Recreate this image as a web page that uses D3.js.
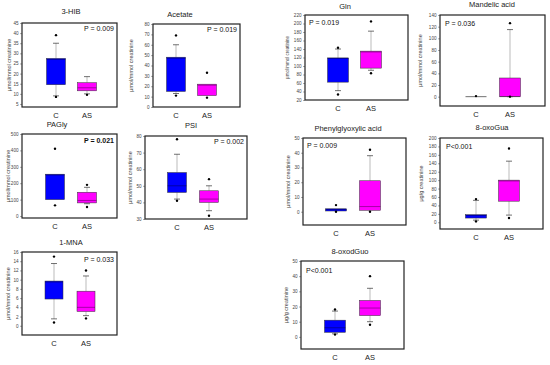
<!DOCTYPE html>
<html>
<head>
<meta charset="utf-8">
<script src="https://cdn.jsdelivr.net/npm/d3@7"></script>
<style>
  body { margin: 0; background: #fff; }
  svg { display: block; font-family: "Liberation Sans", Arial, sans-serif; }
</style>
</head>
<body>
<div id="chart"></div>
<script>
// panel titles, p-values and units
const panelNames = ["3-HIB", "Acetate", "PAGly", "PSI", "1-MNA", "Gln", "Mandelic acid", "Phenylglyoxylic acid", "8-oxoGua", "8-oxodGuo"];
const pLabels = ["P = 0.009", "P = 0.019", "P = 0.021", "P = 0.002", "P = 0.033", "P = 0.019", "P = 0.036", "P = 0.009", "P<0.001", "P<0.001"];
const yUnits = ["μmol/mmol creatinine", "μmol/mmol creatinine", "μmol/mmol creatinine", "μmol/mmol creatinine", "μmol/mmol creatinine",
                "μmol/mmol creatinine", "μmol/mmol creatinine", "μmol/mmol creatinine", "μg/g creatinine", "μg/g creatinine"];
const groups = ["C", "AS"];

// y tick labels per panel
const yTicks = [
    [5, 10, 15, 20, 25, 30, 35, 40, 45],
    [0, 10, 20, 30, 40, 50, 60, 70, 80],
    [0, 100, 200, 300, 400, 500],
    [30, 40, 50, 60, 70, 80],
    [0, 2, 4, 6, 8, 10, 12, 14, 16],
    [20, 40, 60, 80, 100, 120, 140, 160, 180, 200, 220],
    [0, 20, 40, 60, 80, 100, 120, 140],
    [0, 10, 20, 30, 40, 50],
    [0, 20, 40, 60, 80, 100, 120, 140, 160, 180, 200],
    [0, 10, 20, 30, 40, 50]
];

// box stats: [whiskerLow, q1, median, q3, whiskerHigh, dotLow, dotHigh]
const cStats = [
    [9, 14.5, 27, 27.5, 35, 8.5, 39],
    [13, 15, 47, 48, 60, 11, 69],
    [null, 100, 250, 255, null, 65, 410],
    [42, 46, 50, 58, 69, 41, 78],
    [1.5, 5.8, 9.5, 9.7, 13.5, 0.7, 15],
    [42, 62, 118, 119, 140, 33, 143],
    [null, 0, 0, 0, null, null, 1],
    [null, 0.5, 1.5, 2, null, 0, 4.5],
    [5, 10, 16, 18, 52, 2, 55],
    [2, 3, 6, 11, 17, 1.5, 18]
];
const asStats = [
    [10, 11.5, 13, 15.5, 18.5, 9.5, null],
    [null, 11, 21, 22, null, 9, 33],
    [75, 80, 95, 145, 175, 55, 190],
    [35, 40, 42, 47, 50, 32, 54],
    [2.2, 3.1, 4, 7.5, 10.8, 1.6, 12],
    [90, 95, 133, 135, 182, 83, 205],
    [0, 0, 0, 32, 115, 0, 126],
    [null, 1, 3.5, 21, 38, 0, 42],
    [17, 50, 98, 100, 145, 10, 175],
    [10, 14, 19, 24, 32, 8, 40]
];

// layout: frame [x0,y0,x1,y1], y domain, title pos, C/AS centers, box width, p label pos, unit label x
const layout = [
    { frame: [22, 23, 117, 107], dom: [3.5, 45], title: [71, 14], xs: [56, 87], bw: 19, p: [114, 31, "end"], yl: 11 },
    { frame: [153, 24, 240, 107], dom: [0, 80], title: [180, 17], xs: [176, 207], bw: 19, p: [237, 32, "end"], yl: 133 },
    { frame: [22, 134, 117, 218], dom: [-12, 500], title: [57, 127], xs: [55, 87], bw: 19, p: [114, 143, "end"], yl: 10 },
    { frame: [145, 136, 247, 219], dom: [30, 80], title: [191, 128], xs: [177, 209], bw: 19, p: [244, 144, "end"], yl: 132 },
    { frame: [22, 252, 117, 335], dom: [-2, 16], title: [71, 245], xs: [54, 86], bw: 18, p: [114, 262, "end"], yl: 10 },
    { frame: [305, 15, 408, 100], dom: [20, 220], title: [345, 9], xs: [338, 371], bw: 21, p: [309, 25, "start"], yl: 289 },
    { frame: [440, 15, 545, 106], dom: [-16, 140], title: [492, 7], xs: [476, 510], bw: 21, p: [445, 26, "start"], yl: 422 },
    { frame: [303, 138, 406, 225], dom: [-9, 50], title: [348, 131], xs: [336, 370], bw: 21, p: [307, 148, "start"], yl: 290 },
    { frame: [440, 138, 543, 229], dom: [-16, 200], title: [492, 130], xs: [476, 509], bw: 21, p: [446, 149, "start"], yl: 423 },
    { frame: [301, 261, 404, 349], dom: [-8, 50], title: [350, 254], xs: [335, 370], bw: 21, p: [306, 273, "start"], yl: 288 }
];

const colors = { C: "#0000ff", AS: "#ff00ff" };

const svg = d3.select("#chart").append("svg")
    .attr("width", 550)
    .attr("height", 365);

panelNames.forEach((name, i) => {
    const L = layout[i];
    const [x0, y0, x1, y1] = L.frame;
    const g = svg.append("g");

    const y = d3.scaleLinear().domain(L.dom).range([y1, y0]);
    const x = d3.scalePoint().domain(groups).range(L.xs);

    // title
    g.append("text")
        .attr("x", L.title[0])
        .attr("y", L.title[1])
        .attr("text-anchor", "middle")
        .attr("font-size", 7.5)
        .attr("fill", "#222")
        .text(name);

    // y axis
    const yAxis = g.append("g")
        .attr("transform", `translate(${x0},0)`)
        .call(d3.axisLeft(y).tickValues(yTicks[i]).tickSize(2).tickPadding(1.5));
    yAxis.select(".domain").remove();
    yAxis.selectAll("line").attr("stroke", "#555").attr("stroke-width", 0.5);
    yAxis.selectAll("text").attr("font-size", 4.6).attr("fill", "#444").attr("font-family", "Liberation Sans, Arial, sans-serif");

    // y unit label
    g.append("text")
        .attr("transform", `translate(${L.yl},${(y0 + y1) / 2}) rotate(-90)`)
        .attr("text-anchor", "middle")
        .attr("font-size", i === 5 ? 4.5 : 5.5)
        .attr("fill", "#444")
        .text(yUnits[i]);

    // x labels
    groups.forEach(gr => {
        g.append("text")
            .attr("x", x(gr))
            .attr("y", y1 + 11)
            .attr("text-anchor", "middle")
            .attr("font-size", 7.5)
            .attr("fill", "#222")
            .text(gr);
    });

    // boxes
    [cStats[i], asStats[i]].forEach((s, k) => {
        const gr = groups[k];
        const cx = x(gr);
        const [wLo, q1, med, q3, wHi, dLo, dHi] = s;
        const bw = L.bw;

        if (wHi != null) {
            g.append("line")
                .attr("x1", cx).attr("x2", cx)
                .attr("y1", y(q3)).attr("y2", y(wHi))
                .attr("stroke", "#aaa").attr("stroke-width", 0.8);
            g.append("line")
                .attr("x1", cx - 3).attr("x2", cx + 3)
                .attr("y1", y(wHi)).attr("y2", y(wHi))
                .attr("stroke", "#333").attr("stroke-width", 0.7);
        }
        if (wLo != null) {
            g.append("line")
                .attr("x1", cx).attr("x2", cx)
                .attr("y1", y(q1)).attr("y2", y(wLo))
                .attr("stroke", "#aaa").attr("stroke-width", 0.8);
            g.append("line")
                .attr("x1", cx - 3).attr("x2", cx + 3)
                .attr("y1", y(wLo)).attr("y2", y(wLo))
                .attr("stroke", "#333").attr("stroke-width", 0.7);
        }

        if (q3 > q1) {
            g.append("rect")
                .attr("x", cx - bw / 2)
                .attr("y", y(q3))
                .attr("width", bw)
                .attr("height", Math.max(1, y(q1) - y(q3)))
                .attr("fill", colors[gr])
                .attr("stroke", "#333")
                .attr("stroke-width", 0.5);
            g.append("line")
                .attr("x1", cx - bw / 2).attr("x2", cx + bw / 2)
                .attr("y1", y(med)).attr("y2", y(med))
                .attr("stroke", "#000").attr("stroke-opacity", 0.5).attr("stroke-width", 0.7);
        } else {
            g.append("line")
                .attr("x1", cx - bw / 2).attr("x2", cx + bw / 2)
                .attr("y1", y(q1)).attr("y2", y(q1))
                .attr("stroke", "#333").attr("stroke-width", 0.7);
        }

        [dLo, dHi].forEach(d => {
            if (d == null) return;
            g.append("circle")
                .attr("cx", cx)
                .attr("cy", y(d))
                .attr("r", 1.2)
                .attr("fill", "#000");
        });
    });

    // frame
    g.append("rect")
        .attr("x", x0).attr("y", y0)
        .attr("width", x1 - x0).attr("height", y1 - y0)
        .attr("fill", "none")
        .attr("stroke", "#222")
        .attr("stroke-width", 1.2);

    // p value
    g.append("text")
        .attr("x", L.p[0])
        .attr("y", L.p[1])
        .attr("text-anchor", L.p[2])
        .attr("font-size", 7)
        .attr("font-weight", i === 2 ? "bold" : "normal")
        .attr("fill", "#111")
        .text(pLabels[i]);
});
</script>
</body>
</html>
